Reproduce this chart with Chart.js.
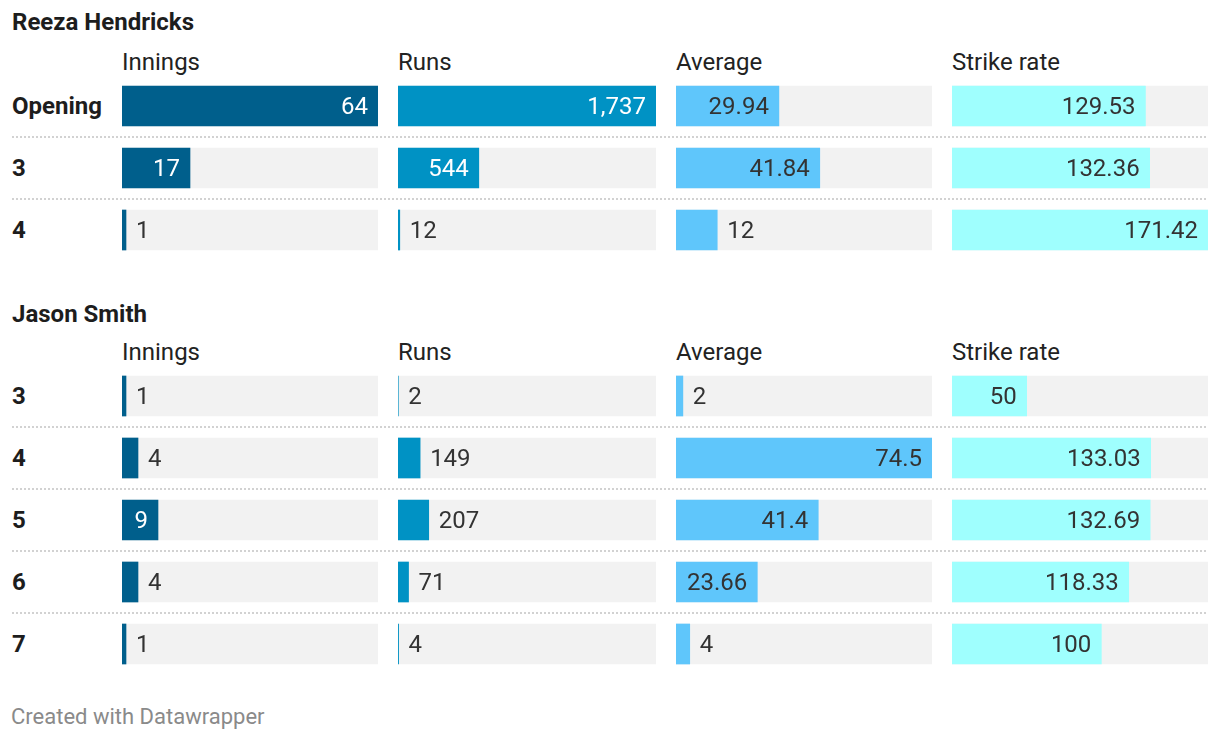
<!DOCTYPE html>
<html>
<head>
<meta charset="utf-8">
<script src="https://cdn.jsdelivr.net/npm/chart.js"></script>
<style>
  html, body { margin: 0; padding: 0; background: #fff; }
  body { width: 1220px; height: 740px; position: relative; overflow: hidden; font-family: Roboto, sans-serif; }
  .txt { position: absolute; height: 32px; line-height: 32px; white-space: nowrap; font-size: 24px; color: #1d1d1d; }
  .bold { font-weight: bold; }
  .head { color: #222; }
  .sep { position: absolute; left: 12px; width: 1196px; height: 2px;
         background-image: linear-gradient(to right, #d2d2d2 50%, transparent 50%);
         background-size: 4px 2px; }
  .box { position: absolute; }
  .foot { color: #8a8a8a; font-size: 22px; }
</style>
</head>
<body>
<script>
// columns and rows
const columns = ['Innings', 'Runs', 'Average', 'Strike rate'];

const reezaRows = ['Opening', '3', '4'];
const reezaInnings = [64, 17, 1];
const reezaRuns = [1737, 544, 12];
const reezaAverage = [29.94, 41.84, 12];
const reezaStrike = [129.53, 132.36, 171.42];

const jasonRows = ['3', '4', '5', '6', '7'];
const jasonInnings = [1, 4, 9, 4, 1];
const jasonRuns = [2, 149, 207, 71, 4];
const jasonAverage = [2, 74.5, 41.4, 23.66, 4];
const jasonStrike = [50, 133.03, 132.69, 118.33, 100];

// layout / style
const colLeft = [122, 398, 676, 952];
const colWidth = [256, 258, 256, 256];
const barColors = ['#005f8c', '#0092c4', '#5fc6fb', '#9ffffe'];
const insideText = ['#ffffff', '#ffffff', '#333333', '#333333'];
const trackColor = '#f2f2f2';
const rowPitch = 62;

const groups = [
  { name: 'Reeza Hendricks', titleY: 22, headY: 62, firstRowY: 106, rows: reezaRows,
    values: [reezaInnings, reezaRuns, reezaAverage, reezaStrike] },
  { name: 'Jason Smith', titleY: 314, headY: 352, firstRowY: 396, rows: jasonRows,
    values: [jasonInnings, jasonRuns, jasonAverage, jasonStrike] }
];

// shared scale max per column (across both players)
const colMax = columns.map((c, i) => Math.max(...groups[0].values[i], ...groups[1].values[i]));

function addText(str, x, cy, cls) {
  const d = document.createElement('div');
  d.className = 'txt ' + (cls || '');
  d.textContent = str;
  d.style.left = x + 'px';
  d.style.top = (cy - 16) + 'px';
  document.body.appendChild(d);
}

const valueLabels = {
  id: 'valueLabels',
  afterDatasetsDraw(chart) {
    const ctx = chart.ctx;
    const meta = chart.getDatasetMeta(0);
    const col = chart.options.colIndex;
    ctx.save();
    ctx.font = '24px Roboto, sans-serif';
    ctx.textBaseline = 'middle';
    meta.data.forEach((bar, i) => {
      const v = chart.data.datasets[0].data[i];
      const str = v.toLocaleString('en-US');
      const w = bar.x - bar.base;
      const tw = ctx.measureText(str).width;
      if (tw + 20 <= w) {
        ctx.fillStyle = insideText[col];
        ctx.textAlign = 'right';
        ctx.fillText(str, bar.x - 10, bar.y + 2);
      } else {
        ctx.fillStyle = '#333333';
        ctx.textAlign = 'left';
        ctx.fillText(str, bar.x + 10, bar.y + 2);
      }
    });
    ctx.restore();
  }
};

groups.forEach(g => {
  addText(g.name, 12, g.titleY, 'bold');
  columns.forEach((c, i) => addText(c, colLeft[i], g.headY, 'head'));
  g.rows.forEach((r, j) => {
    addText(r, 12, g.firstRowY + j * rowPitch, 'bold');
    if (j > 0) {
      const s = document.createElement('div');
      s.className = 'sep';
      s.style.top = (g.firstRowY + j * rowPitch - 32) + 'px';
      document.body.appendChild(s);
    }
  });

  columns.forEach((c, i) => {
    const box = document.createElement('div');
    box.className = 'box';
    box.style.left = colLeft[i] + 'px';
    box.style.top = (g.firstRowY - rowPitch / 2) + 'px';
    box.style.width = colWidth[i] + 'px';
    box.style.height = (g.rows.length * rowPitch) + 'px';
    const cv = document.createElement('canvas');
    box.appendChild(cv);
    document.body.appendChild(box);

    new Chart(cv, {
      type: 'bar',
      data: {
        labels: g.rows,
        datasets: [
          { data: g.values[i], backgroundColor: barColors[i], barThickness: 40, order: 0 },
          { data: g.rows.map(() => colMax[i]), backgroundColor: trackColor, barThickness: 40, order: 1 }
        ]
      },
      options: {
        colIndex: i,
        indexAxis: 'y',
        responsive: true,
        maintainAspectRatio: false,
        animation: false,
        layout: { padding: 0 },
        datasets: { bar: { grouped: false, borderWidth: 0 } },
        plugins: { legend: { display: false }, tooltip: { enabled: false } },
        scales: {
          x: { display: false, min: 0, max: colMax[i] },
          y: { display: false }
        }
      },
      plugins: [valueLabels]
    });
  });
});

addText('Created with Datawrapper', 11, 717, 'foot');
</script>
</body>
</html>
